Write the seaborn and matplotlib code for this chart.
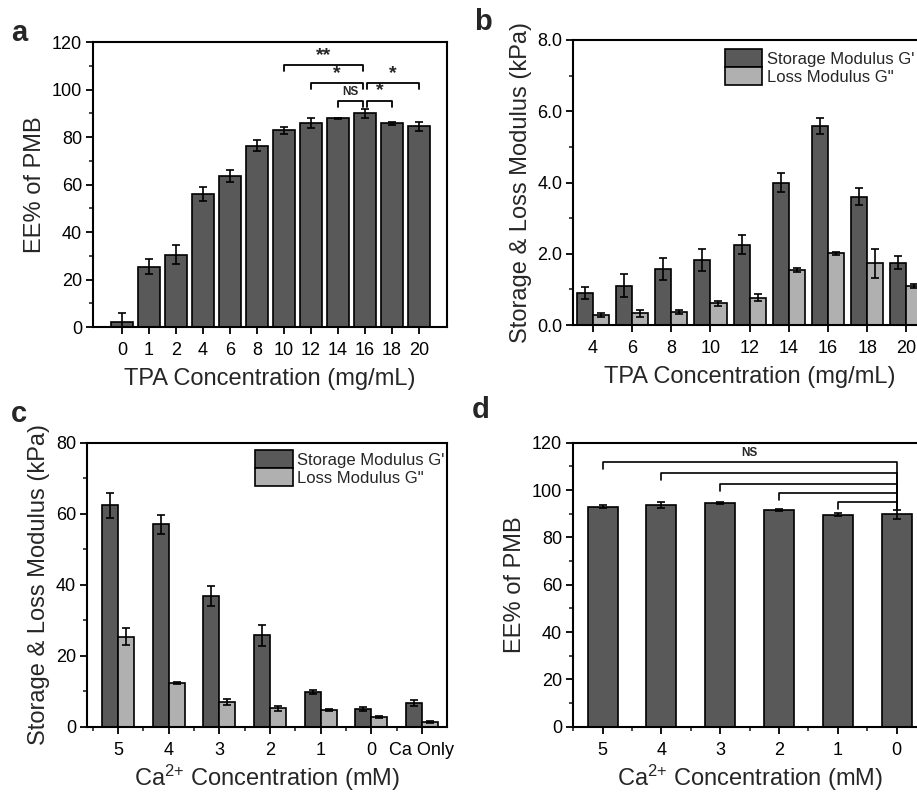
import numpy as np
import pandas as pd
import seaborn as sns
import matplotlib.pyplot as plt
from matplotlib.ticker import AutoMinorLocator, MultipleLocator

sns.set_style('ticks')
plt.rcParams['font.family'] = ['Liberation Sans', 'DejaVu Sans']
plt.rcParams['mathtext.fontset'] = 'custom'
plt.rcParams['mathtext.rm'] = 'Liberation Sans'
plt.rcParams['mathtext.it'] = 'Liberation Sans:italic'
plt.rcParams['mathtext.bf'] = 'Liberation Sans:bold'

# panel a: EE% vs TPA concentration
tpa_a = ['0', '1', '2', '4', '6', '8', '10', '12', '14', '16', '18', '20']
ee_a = [2.0, 25.5, 30.5, 56.0, 63.5, 76.5, 83.0, 86.0, 88.0, 90.0, 85.8, 84.6]
ee_a_err = [4.0, 3.0, 4.0, 3.0, 2.5, 2.5, 1.5, 2.0, 0.3, 1.8, 0.8, 2.0]

# panel b: moduli vs TPA concentration (kPa)
tpa_b = ['4', '6', '8', '10', '12', '14', '16', '18', '20']
g1_b = [0.89, 1.10, 1.56, 1.82, 2.25, 4.00, 5.58, 3.60, 1.75]
g1_b_err = [0.17, 0.32, 0.31, 0.31, 0.27, 0.28, 0.22, 0.24, 0.19]
g2_b = [0.28, 0.33, 0.36, 0.61, 0.77, 1.54, 2.01, 1.73, 1.09]
g2_b_err = [0.06, 0.10, 0.05, 0.07, 0.10, 0.06, 0.05, 0.40, 0.05]

# panel c: moduli vs Ca2+ concentration (kPa)
ca_c = ['5', '4', '3', '2', '1', '0', 'Ca Only']
g1_c = [62.4, 57.0, 36.8, 25.7, 9.7, 4.9, 6.7]
g1_c_err = [3.5, 2.6, 2.9, 2.9, 0.5, 0.6, 0.8]
g2_c = [25.4, 12.2, 6.9, 5.2, 4.7, 2.7, 1.3]
g2_c_err = [2.4, 0.3, 0.8, 0.7, 0.2, 0.3, 0.2]

# panel d: EE% vs Ca2+ concentration
ca_d = ['5', '4', '3', '2', '1', '0']
ee_d = [93.0, 93.7, 94.5, 91.5, 89.6, 89.7]
ee_d_err = [0.7, 1.2, 0.3, 0.5, 0.5, 1.8]

mod_names = ["Storage Modulus G'", 'Loss Modulus G"']
dark = '#595959'
light = '#b0b0b0'
ca_label = r'Ca$^{2{+}}$ Concentration (mM)'

W, H = 917, 794
fig = plt.figure(figsize=(W / 100, H / 100), dpi=100)


def px_axes(left, right, top, bottom):
    return fig.add_axes([left / W, 1 - bottom / H, (right - left) / W, (bottom - top) / H])


def add_errors(ax, errs_list):
    for cont, errs in zip(ax.containers, errs_list):
        xs = [b.get_x() + b.get_width() / 2 for b in cont]
        ys = [b.get_height() for b in cont]
        ax.errorbar(xs, ys, yerr=errs, fmt='none', ecolor='black',
                    elinewidth=1.2, capsize=3, capthick=1.2, zorder=5)


def style_axes(ax, xlabel, ylabel, minor_x=False, xpad=8):
    for s in ax.spines.values():
        s.set_visible(True)
        s.set_linewidth(1.5)
        s.set_color('black')
    ax.tick_params(axis='both', which='major', direction='out', length=5, width=1.3,
                   labelsize=13, colors='black', pad=3)
    ax.tick_params(axis='both', which='minor', direction='out', length=3, width=1.2)
    ax.tick_params(axis='x', which='major', pad=6)
    ax.yaxis.set_minor_locator(AutoMinorLocator(2))
    if minor_x:
        ax.xaxis.set_minor_locator(MultipleLocator(1, offset=0.5))
    ax.set_xlabel(xlabel, fontsize=17, labelpad=xpad)
    ax.set_ylabel(ylabel, fontsize=17, labelpad=4)
    ax.grid(False)


def bracket(ax, x0, x1, y, h0, h1, lw=1.3):
    ax.plot([x0, x0, x1, x1], [y - h0, y, y, y - h1], color='black', lw=lw, zorder=6)


leg_kw = dict(title=None, frameon=False, fontsize=12, handlelength=2.25, handleheight=1.3,
              labelspacing=0, handletextpad=0.25, borderpad=0, borderaxespad=0)

# ---- a ----
ax = px_axes(93, 447, 42.3, 327)
df_a = pd.DataFrame({'TPA': tpa_a, 'EE': ee_a})
sns.barplot(data=df_a, x='TPA', y='EE', order=tpa_a, color=dark, saturation=1,
            width=0.8, edgecolor='black', linewidth=1.2, errorbar=None, ax=ax)
add_errors(ax, [ee_a_err])
ax.set_xlim(-1.07, 12.04)
ax.set_ylim(0, 120)
ax.set_yticks([0, 20, 40, 60, 80, 100, 120])
style_axes(ax, 'TPA Concentration (mg/mL)', 'EE% of PMB', xpad=6)
bracket(ax, 6, 8.92, 110.3, 2.5, 2.5)
ax.text(7.46, 111.0, '**', ha='center', va='bottom', fontsize=14, fontweight='bold')
bracket(ax, 7, 8.92, 102.8, 2.5, 2.5)
ax.text(7.96, 103.3, '*', ha='center', va='bottom', fontsize=14, fontweight='bold')
bracket(ax, 9.08, 11, 102.8, 2.5, 2.5)
ax.text(10.04, 103.3, '*', ha='center', va='bottom', fontsize=14, fontweight='bold')
bracket(ax, 8, 8.92, 95.4, 2.5, 2.5)
ax.text(8.46, 96.5, 'NS', ha='center', va='bottom', fontsize=8.5, fontweight='bold')
bracket(ax, 9.08, 10, 95.4, 2.5, 2.5)
ax.text(9.54, 95.9, '*', ha='center', va='bottom', fontsize=14, fontweight='bold')

# ---- b ----
ax = px_axes(573.3, 926, 40, 325)
df_b = pd.DataFrame({'TPA': tpa_b * 2, 'val': g1_b + g2_b,
                     'mod': [mod_names[0]] * len(tpa_b) + [mod_names[1]] * len(tpa_b)})
sns.barplot(data=df_b, x='TPA', y='val', hue='mod', order=tpa_b, hue_order=mod_names,
            palette=[dark, light], saturation=1, width=0.82, gap=0,
            edgecolor='black', linewidth=1.2, errorbar=None, ax=ax)
add_errors(ax, [g1_b_err, g2_b_err])
ax.set_xlim(-0.5, 8.5)
ax.set_ylim(0, 8)
ax.set_yticks([0, 2, 4, 6, 8])
ax.set_yticklabels(['0.0', '2.0', '4.0', '6.0', '8.0'])
style_axes(ax, 'TPA Concentration (mg/mL)', 'Storage & Loss Modulus (kPa)', xpad=6)
sns.move_legend(ax, 'upper left', bbox_to_anchor=(0.43, 0.968), **leg_kw)

# ---- c ----
ax = px_axes(87.3, 446.7, 442.7, 726.7)
df_c = pd.DataFrame({'Ca': ca_c * 2, 'val': g1_c + g2_c,
                     'mod': [mod_names[0]] * len(ca_c) + [mod_names[1]] * len(ca_c)})
sns.barplot(data=df_c, x='Ca', y='val', hue='mod', order=ca_c, hue_order=mod_names,
            palette=[dark, light], saturation=1, width=0.63, gap=0,
            edgecolor='black', linewidth=1.2, errorbar=None, ax=ax)
add_errors(ax, [g1_c_err, g2_c_err])
ax.set_xlim(-0.61, 6.49)
ax.set_ylim(0, 80)
ax.set_yticks([0, 20, 40, 60, 80])
style_axes(ax, ca_label, 'Storage & Loss Modulus (kPa)', minor_x=True, xpad=3)
sns.move_legend(ax, 'upper left', bbox_to_anchor=(0.468, 0.974), **leg_kw)

# ---- d ----
ax = px_axes(573.3, 926, 442.7, 726.7)
df_d = pd.DataFrame({'Ca': ca_d, 'EE': ee_d})
sns.barplot(data=df_d, x='Ca', y='EE', order=ca_d, color=dark, saturation=1,
            width=0.51, edgecolor='black', linewidth=1.2, errorbar=None, ax=ax)
add_errors(ax, [ee_d_err])
ax.set_xlim(-0.5, 5.5)
ax.set_ylim(0, 120)
ax.set_yticks([0, 20, 40, 60, 80, 100, 120])
style_axes(ax, ca_label, 'EE% of PMB', minor_x=True, xpad=3)
for i, yb in enumerate([111.7, 107.0, 102.4, 98.6, 94.8]):
    bracket(ax, i, 5, yb, 2.8, yb - 92.0, lw=1.2)
ax.text(2.5, 113.2, 'NS', ha='center', va='bottom', fontsize=8.5, fontweight='bold')

# panel letters
for lab, x, y in [('a', 19, 33), ('b', 483, 22), ('c', 19, 414), ('d', 481, 410)]:
    fig.text(x / W, 1 - y / H, lab, ha='center', va='center', fontsize=21, fontweight='bold')

fig.savefig('out.png', dpi=100)
